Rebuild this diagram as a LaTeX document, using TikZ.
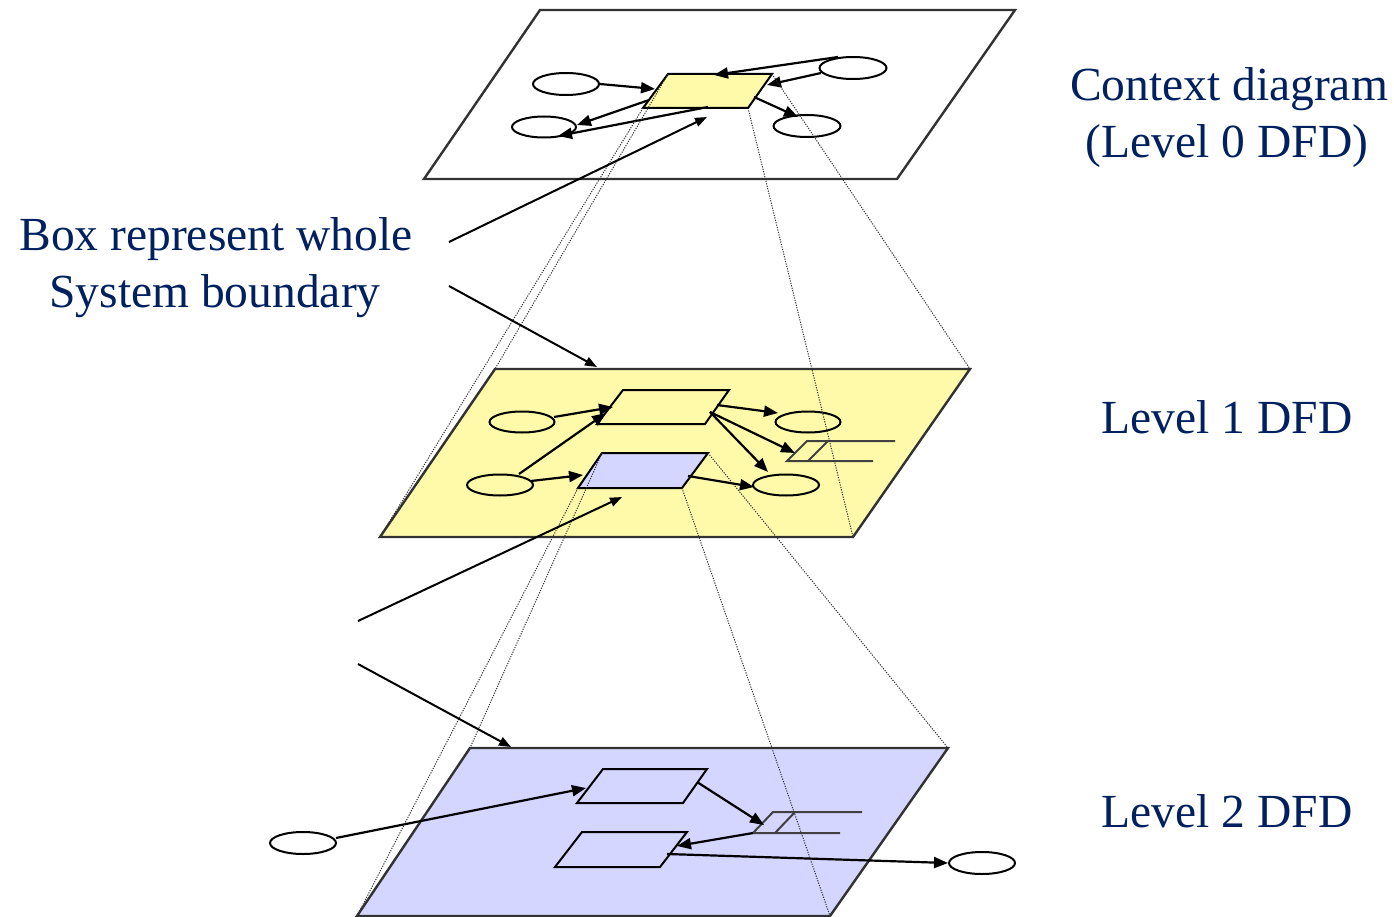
\documentclass[tikz,border=0pt]{standalone}
\usepackage{fontspec}
\setmainfont{Liberation Serif}
\usetikzlibrary{arrows.meta,shapes.geometric}
\definecolor{navy}{RGB}{0,32,96}
\definecolor{lvlyellow}{RGB}{255,250,170}
\definecolor{lvlblue}{RGB}{212,214,255}
\definecolor{edgegray}{RGB}{50,50,50}
\begin{document}
\begin{tikzpicture}[x=1pt,y=-1pt,
  plane/.style={draw=edgegray,line width=2.4pt,line join=miter},
  proc/.style={draw=black,line width=2pt,line join=miter},
  ent/.style={draw=black,ellipse,line width=2pt,minimum width=66pt,minimum height=22pt,inner sep=0pt},
  store/.style={draw=black!75,line width=2pt},
  flow/.style={-{Triangle[length=14pt,width=11pt]},line width=2.2pt},
  note/.style={-{Triangle[length=12pt,width=9pt]},line width=2pt},
  proj/.style={draw=black!80,line width=1pt,dash pattern=on 1.2pt off 1.3pt},
  lbl/.style={text=navy,font=\fontsize{47.5}{57}\selectfont,anchor=base,inner sep=0pt}]
\useasboundingbox (0,0) rectangle (1394,917);

% ---------- top plane (context diagram) ----------
\coordinate (T1) at (540,10); \coordinate (T2) at (1015,10);
\coordinate (T3) at (897,179); \coordinate (T4) at (424,179);
\draw[plane,fill=white] (T1)--(T2)--(T3)--(T4)--cycle;

\coordinate (tb1) at (668,74); \coordinate (tb2) at (772,74);
\coordinate (tb3) at (748,108); \coordinate (tb4) at (643,108);
\draw[proc,fill=lvlyellow] (tb1)--(tb2)--(tb3)--(tb4)--cycle;

\node[ent] (c1) at (566,84) {};
\node[ent,minimum width=64pt,minimum height=21pt] (c2) at (544,127) {};
\node[ent,minimum width=67pt] (c3) at (853,68) {};
\node[ent,minimum width=67pt] (c4) at (807,126) {};

\coordinate (ta1) at (655,89);
\coordinate (c3a) at (838,57);  \coordinate (ta2) at (714,75);
\coordinate (c3b) at (821,73);  \coordinate (ta3) at (767,85);
\coordinate (tb5) at (754,97);  \coordinate (c4a) at (798,117);
\coordinate (tb6) at (649,100); \coordinate (c2a) at (577,125);
\coordinate (tb7) at (708,107); \coordinate (c2b) at (558,136);
\draw[flow] (c1.east) -- (ta1);
\draw[flow] (c3a) -- (ta2);
\draw[flow] (c3b) -- (ta3);
\draw[flow] (tb5) -- (c4a);
\draw[flow] (tb6) -- (c2a);
\draw[flow] (tb7) -- (c2b);

% ---------- middle plane (level 1) ----------
\coordinate (M1) at (495,369); \coordinate (M2) at (970,369);
\coordinate (M3) at (853,537); \coordinate (M4) at (380,537);
\draw[plane,fill=lvlyellow] (M1)--(M2)--(M3)--(M4)--cycle;

\coordinate (mb1) at (623,390); \coordinate (mb2) at (729,390);
\coordinate (mb3) at (705,424); \coordinate (mb4) at (597,424);
\draw[proc] (mb1)--(mb2)--(mb3)--(mb4)--cycle;

\coordinate (bb1) at (602,453); \coordinate (bb2) at (708,453);
\coordinate (bb3) at (682,488); \coordinate (bb4) at (578,488);
\draw[proc,fill=lvlblue] (bb1)--(bb2)--(bb3)--(bb4)--cycle;

\node[ent,minimum width=65pt,minimum height=21pt] (m1) at (522,422) {};
\node[ent,minimum width=66pt,minimum height=21pt] (m2) at (500,485) {};
\node[ent,minimum width=65pt,minimum height=21pt] (m3) at (808,422) {};
\node[ent,minimum width=66pt,minimum height=21pt] (m4) at (786,485) {};

\coordinate (ds1) at (787,461);
\draw[store] (895,441) -- (807,441) -- (ds1) -- (873,461);
\draw[store] (808,461) -- (828,441);

\coordinate (m1a) at (554,417); \coordinate (ma1) at (613,407);
\coordinate (m2a) at (519,474); \coordinate (ma2) at (606,413);
\coordinate (m2b) at (531,481); \coordinate (ma3) at (583,475);
\coordinate (mb5) at (717,405); \coordinate (m3a) at (778,413);
\coordinate (mb6) at (710,412); \coordinate (dsa) at (795,453);
\coordinate (m4a) at (768,472);
\coordinate (bb5) at (688,476); \coordinate (m4b) at (754,487);
\draw[flow] (m1a) -- (ma1);
\draw[flow] (m2a) -- (ma2);
\draw[flow] (m2b) -- (ma3);
\draw[flow] (mb5) -- (m3a);
\draw[flow] (mb6) -- (dsa);
\draw[flow] (mb6) -- (m4a);
\draw[flow] (bb5) -- (m4b);

% ---------- bottom plane (level 2) ----------
\coordinate (B1) at (470,748); \coordinate (B2) at (948,748);
\coordinate (B3) at (830,916); \coordinate (B4) at (357,916);
\draw[plane,fill=lvlblue] (B1)--(B2)--(B3)--(B4)--cycle;

\coordinate (p1) at (603,769); \coordinate (p2) at (707,769);
\coordinate (p3) at (683,803); \coordinate (p4) at (577,803);
\draw[proc] (p1)--(p2)--(p3)--(p4)--cycle;

\coordinate (q1) at (582,832); \coordinate (q2) at (687,832);
\coordinate (q3) at (660,867); \coordinate (q4) at (555,867);
\draw[proc] (q1)--(q2)--(q3)--(q4)--cycle;

\coordinate (ds2) at (753,833);
\draw[store] (862,812) -- (773,812) -- (ds2) -- (840,833);
\draw[store] (775,833) -- (795,812);

\node[ent] (e1) at (303,843) {};
\node[ent] (e2) at (982,863) {};

\coordinate (e1a) at (336,838); \coordinate (pa1) at (586,788);
\coordinate (p5) at (697,782);  \coordinate (dsb) at (764,825);
\coordinate (qa1) at (677,846);
\coordinate (q5) at (667,854);
\draw[flow] (e1a) -- (pa1);
\draw[flow] (p5) -- (dsb);
\draw[flow] (ds2) -- (qa1);
\draw[flow] (q5) -- (e2.west);

% ---------- projection lines ----------
\draw[proj] (tb1) -- (M1);
\draw[proj] (tb4) -- (M4);
\draw[proj] (tb3) -- (M3);
\draw[proj] (tb2) -- (M2);
\draw[proj] (bb1) -- (B1);
\draw[proj] (bb4) -- (B4);
\draw[proj] (bb3) -- (B3);
\draw[proj] (bb2) -- (B2);

% ---------- annotation arrows ----------
\coordinate (n1) at (449,242); \coordinate (n2) at (449,286);
\coordinate (n3) at (358,621); \coordinate (n4) at (358,664);
\coordinate (tc) at (707,117); \coordinate (mt) at (597,367);
\coordinate (bc) at (622,497); \coordinate (bt) at (511,747);
\draw[note] (n1) -- (tc);
\draw[note] (n2) -- (mt);
\draw[note] (n3) -- (bc);
\draw[note] (n4) -- (bt);

% ---------- labels ----------
\node[lbl] (l0a) at (1229,101) {Context diagram};
\node[lbl] (l0b) at (1227,158) {(Level 0 DFD)};
\node[lbl] (nb1) at (216,251) {Box represent whole};
\node[lbl] (nb2) at (215,307) {System boundary};
\node[lbl] (l1) at (1227,433) {Level 1 DFD};
\node[lbl] (l2) at (1227,827) {Level 2 DFD};
\end{tikzpicture}
\end{document}
